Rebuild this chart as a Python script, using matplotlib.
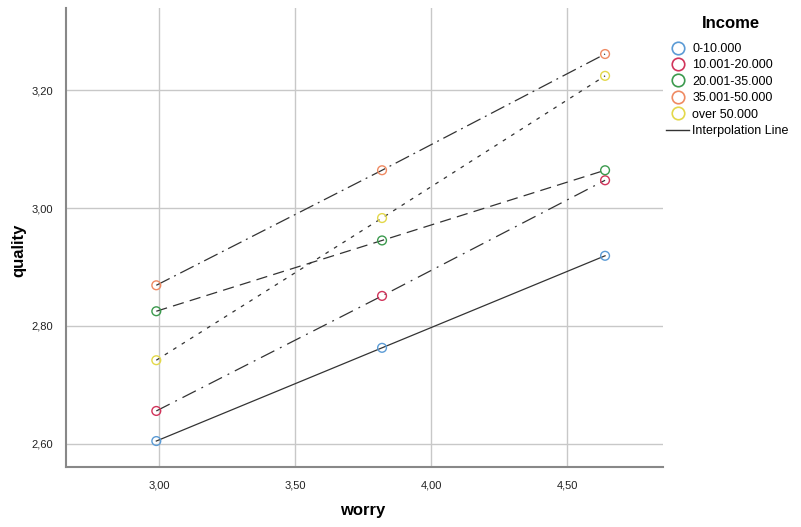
import matplotlib
matplotlib.use("Agg")
import matplotlib.pyplot as plt
from matplotlib.lines import Line2D
from matplotlib.ticker import FuncFormatter

plt.rcParams['font.family'] = ['Liberation Sans', 'DejaVu Sans']

# Data
worry = [2.99, 3.82, 4.64]
groups = ["0-10.000", "10.001-20.000", "20.001-35.000", "35.001-50.000", "over 50.000"]
quality = [
    [2.605, 2.763, 2.919],
    [2.656, 2.851, 3.047],
    [2.825, 2.945, 3.064],
    [2.869, 3.064, 3.261],
    [2.742, 2.983, 3.224],
]
colors = ["#5b9bd5", "#d1345b", "#3c9a4e", "#ef8a62", "#e3d84a"]
styles = ["-", (0, (12, 5, 1.5, 5)), (0, (9, 5)), (0, (12, 4, 1.5, 4)), (0, (3, 5))]

fig = plt.figure(figsize=(8.01, 5.27), dpi=100)
ax = fig.add_axes([66 / 801, 1 - 467 / 527, (663 - 66) / 801, (467 - 8) / 527])

for q, c, ls in zip(quality, colors, styles):
    ax.plot(worry, q, color="#333333", linewidth=0.9, linestyle=ls, zorder=2)
    ax.scatter(worry, q, s=40, facecolors="none", edgecolors=c, linewidths=1.0, zorder=3)

ax.set_xlim(2.658, 4.853)
ax.set_ylim(2.561, 3.339)
ax.set_xticks([3.0, 3.5, 4.0, 4.5])
ax.set_yticks([2.6, 2.8, 3.0, 3.2])
fmt = FuncFormatter(lambda v, p: f"{v:.2f}".replace(".", ","))
ax.xaxis.set_major_formatter(fmt)
ax.yaxis.set_major_formatter(fmt)
ax.tick_params(length=0, labelsize=8, colors="#222222")
ax.tick_params(axis="x", pad=10)
ax.tick_params(axis="y", pad=9)
ax.grid(True, color="#c8c8c8", linewidth=1.0)
ax.set_axisbelow(True)

for s in ["top", "right"]:
    ax.spines[s].set_visible(False)
for s in ["left", "bottom"]:
    ax.spines[s].set_color("#888888")
    ax.spines[s].set_linewidth(1.5)

ax.set_xlabel("worry", fontsize=12, fontweight="bold")
ax.set_ylabel("quality", fontsize=12, fontweight="bold")
ax.xaxis.set_label_coords((363 - 66) / 597, -(503 - 467) / 459)
ax.yaxis.set_label_coords(-(66 - 26) / 597, (467 - 250) / 459)

# legend
fig.text(731 / 801, 1 - 23 / 527, "Income", ha="center", va="center", fontsize=12, fontweight="bold")
handles = [Line2D([], [], linestyle="none", marker="o", markersize=9, markerfacecolor="none",
                  markeredgecolor=c, markeredgewidth=1.2) for c in colors]
handles.append(Line2D([], [], color="#333333", linewidth=1.0))
labels = groups + ["Interpolation Line"]
fig.legend(handles, labels, loc="upper left", bbox_to_anchor=(666 / 801, 1 - 43 / 527),
           frameon=False, fontsize=9, handlelength=1.85, handletextpad=0.25, labelspacing=0.35,
           borderaxespad=0, borderpad=0)

fig.savefig("out.png", dpi=100)
